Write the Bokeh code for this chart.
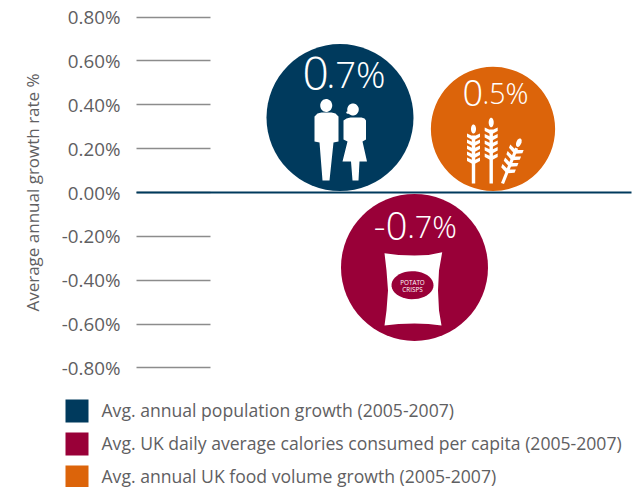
from math import sqrt, pi
import numpy as np
from bokeh.plotting import figure
from bokeh.models import LinearAxis, FixedTicker, Label, CustomJSTickFormatter, BoxAnnotation
from bokeh.core.properties import value
from bokeh.embed import file_html
from bokeh.resources import INLINE

# ---- data ----
series = ["Avg. annual population growth (2005-2007)",
          "Avg. UK daily average calories consumed per capita (2005-2007)",
          "Avg. annual UK food volume growth (2005-2007)"]
growth = [0.7, -0.7, 0.5]
colors = ["#003a5d", "#990038", "#dc640a"]
tick_values = [0.8, 0.6, 0.4, 0.2, 0.0, -0.2, -0.4, -0.6, -0.8]
axis_title = "Average annual growth rate %"

# ---- layout ----
FONT = "Open Sans"
LIGHT = "Open Sans Light, Open Sans"
GREY = "#5f6062"
W, H = 641, 487
AX_X = 210        # page x of the axis
PX = 219.2        # px per axis unit
Y0 = 192.0        # page y of zero
D_FULL = 147.0    # diameter of 0.7 bubble in px
centres_x = [339.5, 414.0, 492.5]

p = figure(width=W, height=H, output_backend="svg", toolbar_location=None,
           x_range=(0, W), y_range=((Y0-H)/PX, Y0/PX),
           x_axis_type=None, y_axis_type=None,
           min_border_left=0, min_border_right=0, min_border_top=0, min_border_bottom=0)
p.outline_line_color = None
p.grid.visible = False
p.background_fill_color = None
p.border_fill_color = None

def yd(py):
    return (Y0 - np.asarray(py, dtype=float)) / PX

# axis
ax = LinearAxis(ticker=FixedTicker(ticks=tick_values), fixed_location=AX_X,
                major_tick_in=0, major_tick_out=74, minor_tick_line_color=None,
                axis_line_color=None, major_tick_line_color="#8c8c8c", major_tick_line_width=1.5,
                major_label_standoff=16, major_label_text_font=FONT, major_label_text_font_size="18.8px",
                major_label_text_color=GREY,
                formatter=CustomJSTickFormatter(code="return tick.toFixed(2) + '%'"))
p.add_layout(ax, "left")

# zero line, above the axis tick
p.segment(x0=[136], x1=[631], y0=[0], y1=[0], line_color="#003a5d", line_width=2, level="overlay")

# bubbles: area proportional to the value
for g, c, cx in zip(growth, colors, centres_x):
    d = D_FULL * sqrt(abs(g) / 0.7)
    r = d / 2 / PX
    sign = 1 if g > 0 else -1
    p.circle(x=[cx], y=[sign * (r + 1.4/PX)], radius=r, radius_dimension="y",
             fill_color=c, line_color=None)

# value labels
def txt(x, base, s, size, align="left"):
    p.text(x=[x], y=[yd(base)], text=[s], text_font=value(LIGHT), text_font_size=f"{size}px",
           text_color="white", text_baseline="alphabetic", text_align=align)

txt(302, 90-17.5, "0", 46); txt(326, 90-17, ".7%", 36.5)
txt(462, 107-15, "0", 36); txt(482, 107-15, ".5%", 28.5)
txt(373, 241-16, "-0", 38); txt(407, 241-16, ".7%", 30.5)

WHITE = dict(fill_color="white", line_color=None)

def poly(xs, ys, **kw):
    st = dict(WHITE); st.update(kw)
    p.patch(x=list(xs), y=list(yd(ys)), **st)

def ell(cx, cy, w, h, **kw):
    st = dict(WHITE); st.update(kw)
    t = np.linspace(0, 2*pi, 40)
    p.patch(x=list(cx + w/2*np.cos(t)), y=list(yd(cy + h/2*np.sin(t))), **st)

# man
ell(325.7, 105, 12, 13)
poly([317,321,331,335,338,338,333,329,322,319,314,314],
     [113,112,112,113,116,141,142,180,180,142,141,116])
# woman
ell(352.5, 109, 11.5, 12)
ell(347.5, 112, 3.5, 2.5)
poly([346,350,361,364,365.5,365.5,362,366.5,359,358,352,350.5,342,347,343,343],
     [118,117,117,118,120,139,141,161,161,180,180,161,161,141,139,120])

# potato bag
poly([384,398,414,428,441.7,438.5,437.5,438.5,441,428,414,398,384,386,387.5,386],
     [252.7,254.5,255,254.5,251.7,270,290,310,325,323.5,323,323.5,325,310,290,270])
ell(412, 284.7, 42, 28, fill_color="#990038")
p.text(x=[412, 412], y=list(yd([281.7, 288.7])), text=["POTATO", "CRISPS"],
       text_font=value(FONT), text_font_size="6.3px", text_color="white",
       text_align="center", text_baseline="middle")

# wheat
def chevrons(cx, ys):
    for y in ys:
        poly([cx, cx, cx-6.5, cx-6.5], [y+3, y+7, y+3.5, y])
        poly([cx, cx, cx+6.5, cx+6.5], [y+3, y+7, y+3.5, y])

def rot(xs, ys, a, ox, oy):
    ca, sa = np.cos(a), np.sin(a)
    return [ox+x*ca-y*sa for x, y in zip(xs, ys)], [oy+x*sa+y*ca for x, y in zip(xs, ys)]

ell(473, 128.5, 5, 9)
chevrons(473, [133, 139, 145, 151, 157])
poly([471.3, 474.7, 474.7, 471.3], [135, 135, 183, 183])
ell(490.7, 122, 5, 9.5)
chevrons(490.7, [127, 133.5, 140, 146.5, 153])
poly([489, 492.4, 492.4, 489], [129, 129, 183, 183])

a = 0.38
bx, by = 502, 183
xs, ys = rot([-1.6, 1.6, 1.6, -1.6], [-38, -38, 0, 0], a, bx, by)
poly(xs, ys)
for y0 in (-39, -32, -25, -18):
    for sgn in (-1, 1):
        xs, ys = rot([0, 0, sgn*7.2, sgn*7.2], [y0+3, y0+7, y0+3.5, y0], a, bx, by)
        poly(xs, ys)
t = np.linspace(0, 2*pi, 20)
xs, ys = rot(list(2.5*np.cos(t)), list(-44+4.5*np.sin(t)), a, bx, by)
poly(xs, ys)

# axis title
p.add_layout(Label(x=32, y=H-192, x_units="screen", y_units="screen", text=axis_title, angle=pi/2,
                   text_font=FONT, text_font_size="17px", text_color=GREY,
                   text_align="center", text_baseline="middle"))

# legend
for s, c, top in zip(series, colors, [399, 432, 465]):
    p.add_layout(BoxAnnotation(left=65, right=88, top=top, bottom=top+23,
                               left_units="canvas", right_units="canvas", top_units="canvas", bottom_units="canvas",
                               fill_color=c, fill_alpha=1, line_color=None))
    p.add_layout(Label(x=101, y=H-(top+10.5), x_units="screen", y_units="screen", text=s,
                       text_font=FONT, text_font_size="17.6px", text_color=GREY,
                       text_align="left", text_baseline="middle"))

open("out.html", "w").write(file_html(p, INLINE))
